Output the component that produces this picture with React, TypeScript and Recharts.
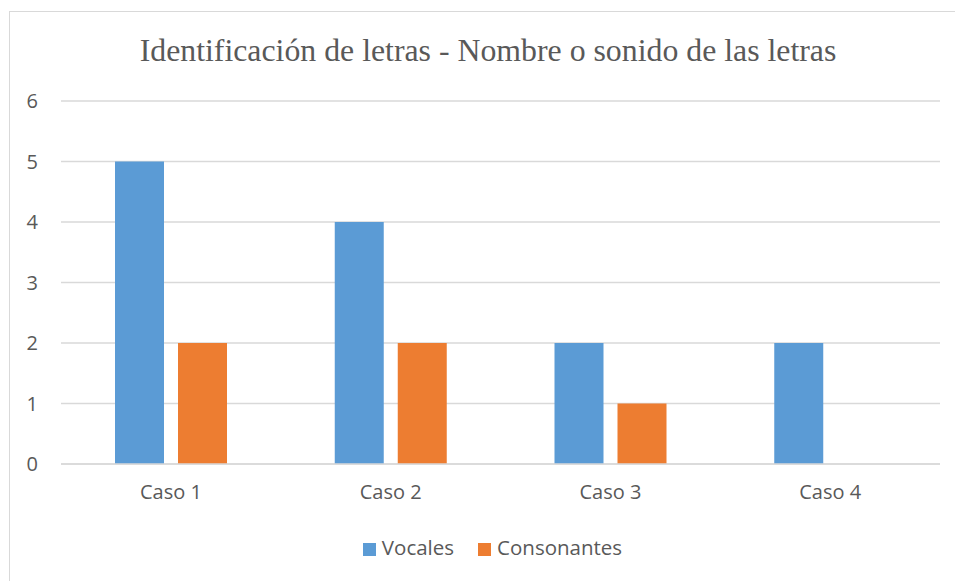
import { BarChart, Bar, XAxis, YAxis, CartesianGrid, Legend } from "recharts";

const categories = ["Caso 1", "Caso 2", "Caso 3", "Caso 4"];
const vocales = [5, 4, 2, 2];
const consonantes = [2, 2, 1, 0];
const yTicks = [0, 1, 2, 3, 4, 5, 6];
const seriesOrder = ["Vocales", "Consonantes"];

const data = categories.map((name, i) => ({
  name,
  Vocales: vocales[i],
  Consonantes: consonantes[i],
}));

const textColor = "#595959";
const sansFont = "'Open Sans', sans-serif";

export default function App() {
  return (
    <div style={wrapStyle}>
      <div style={frameStyle} />
      <div style={titleStyle}>Identificación de letras - Nombre o sonido de las letras</div>
      <BarChart
        width={955}
        height={581}
        data={data}
        margin={{ top: 101, right: 15, bottom: 20, left: 11 }}
        barSize={49}
        barGap={14}
        style={{ position: "absolute", left: 0, top: 0 }}
      >
        <CartesianGrid vertical={false} stroke="#d9d9d9" strokeWidth={1.3} />
        <XAxis
          dataKey="name"
          axisLine={{ stroke: "#d9d9d9", strokeWidth: 1.3 }}
          tickLine={false}
          tick={{ fill: textColor, fontSize: 20, fontFamily: sansFont }}
          tickMargin={15}
          height={69}
        />
        <YAxis
          domain={[0, 6]}
          ticks={yTicks}
          axisLine={false}
          tickLine={false}
          tick={{ fill: textColor, fontSize: 20, fontFamily: sansFont }}
          tickMargin={17}
          width={50}
        />
        <Legend
          verticalAlign="bottom"
          iconType="square"
          iconSize={13}
          itemSorter={(item: any) => seriesOrder.indexOf(item.dataKey)}
          wrapperStyle={{ left: 33, fontFamily: sansFont, fontSize: 20.5, color: textColor }}
          formatter={(v) => (
            <span
              style={{
                color: textColor,
                marginLeft: 2,
                paddingRight: v === "Vocales" ? 14 : 0,
              }}
            >
              {v}
            </span>
          )}
        />
        <Bar dataKey="Vocales" fill="#5b9bd5" isAnimationActive={false} />
        <Bar dataKey="Consonantes" fill="#ed7d31" isAnimationActive={false} />
      </BarChart>
    </div>
  );
}

const wrapStyle: React.CSSProperties = {
  position: "absolute",
  left: 0,
  top: 0,
  width: 955,
  height: 581,
  overflow: "hidden",
  background: "#fff",
};

const frameStyle: React.CSSProperties = {
  position: "absolute",
  left: 9,
  top: 11,
  width: 980,
  height: 600,
  borderLeft: "1.5px solid #d9d9d9",
  borderTop: "1.5px solid #d9d9d9",
};

const titleStyle: React.CSSProperties = {
  position: "absolute",
  left: 0,
  top: 31,
  width: 976,
  textAlign: "center",
  fontFamily: "'Liberation Serif', serif",
  fontSize: 31.8,
  color: textColor,
  lineHeight: "40px",
};
